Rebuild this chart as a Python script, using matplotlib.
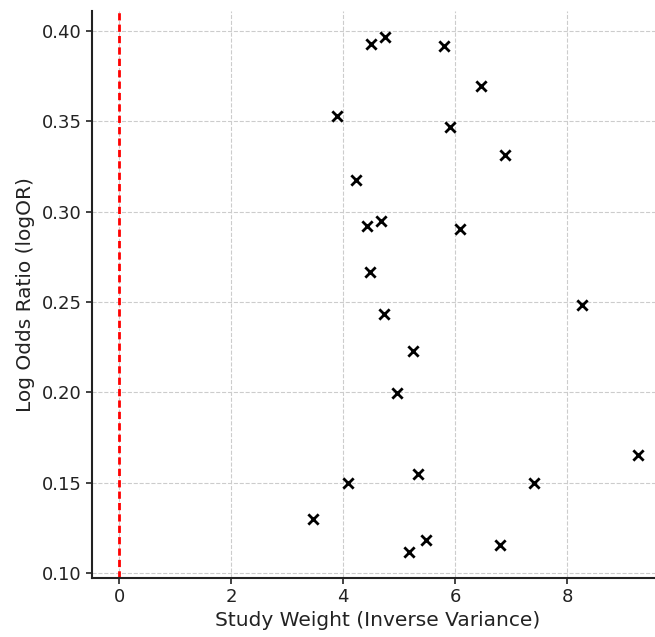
import matplotlib
matplotlib.use("Agg")
import matplotlib.pyplot as plt

# Study weights (inverse variance) and log odds ratios
weights = [4.49, 4.75, 5.79, 6.46, 3.89, 5.91, 6.89, 4.23, 4.42, 4.67, 6.08, 4.48,
           8.27, 4.72, 5.25, 4.96, 9.27, 5.33, 4.09, 7.41, 3.46, 5.47, 5.17, 6.79]
log_or = [0.3925, 0.3967, 0.3917, 0.3695, 0.3531, 0.3468, 0.3315, 0.3174, 0.2920,
          0.2949, 0.2905, 0.2664, 0.2485, 0.2436, 0.2228, 0.1999, 0.1652, 0.1551,
          0.1501, 0.1501, 0.1297, 0.1181, 0.1116, 0.1158]
x_ticks = [0, 2, 4, 6, 8]
y_ticks = [0.10, 0.15, 0.20, 0.25, 0.30, 0.35, 0.40]

fig = plt.figure(figsize=(6.55, 6.37), dpi=100)
ax = fig.add_axes([92 / 655, (637 - 578) / 637, (664 - 92) / 655, (578 - 11) / 637])

ax.scatter(weights, log_or, marker="x", color="black", s=55, linewidths=2, zorder=3)
ax.axvline(0, color="red", linestyle="--", linewidth=2, dashes=(2.6, 1.5), zorder=2)

ax.set_xlim(-0.4875, 9.727)
ax.set_ylim(0.0973, 0.4110)
ax.set_xticks(x_ticks)
ax.set_yticks(y_ticks)
ax.set_yticklabels([f"{v:.2f}" for v in y_ticks])

ax.grid(True, linestyle="--", color="#cccccc", linewidth=0.8)
ax.set_axisbelow(True)
for side in ("top", "right"):
    ax.spines[side].set_visible(False)
for side in ("left", "bottom"):
    ax.spines[side].set_linewidth(1.5)
    ax.spines[side].set_color("#222222")

ax.tick_params(labelsize=13, length=4, width=1.2, colors="#222222")
ax.set_xlabel("Study Weight (Inverse Variance)", fontsize=14.5, color="#222222", labelpad=3)
ax.set_ylabel("Log Odds Ratio (logOR)", fontsize=14.5, color="#222222", labelpad=5)

fig.savefig("out.png", dpi=100)
